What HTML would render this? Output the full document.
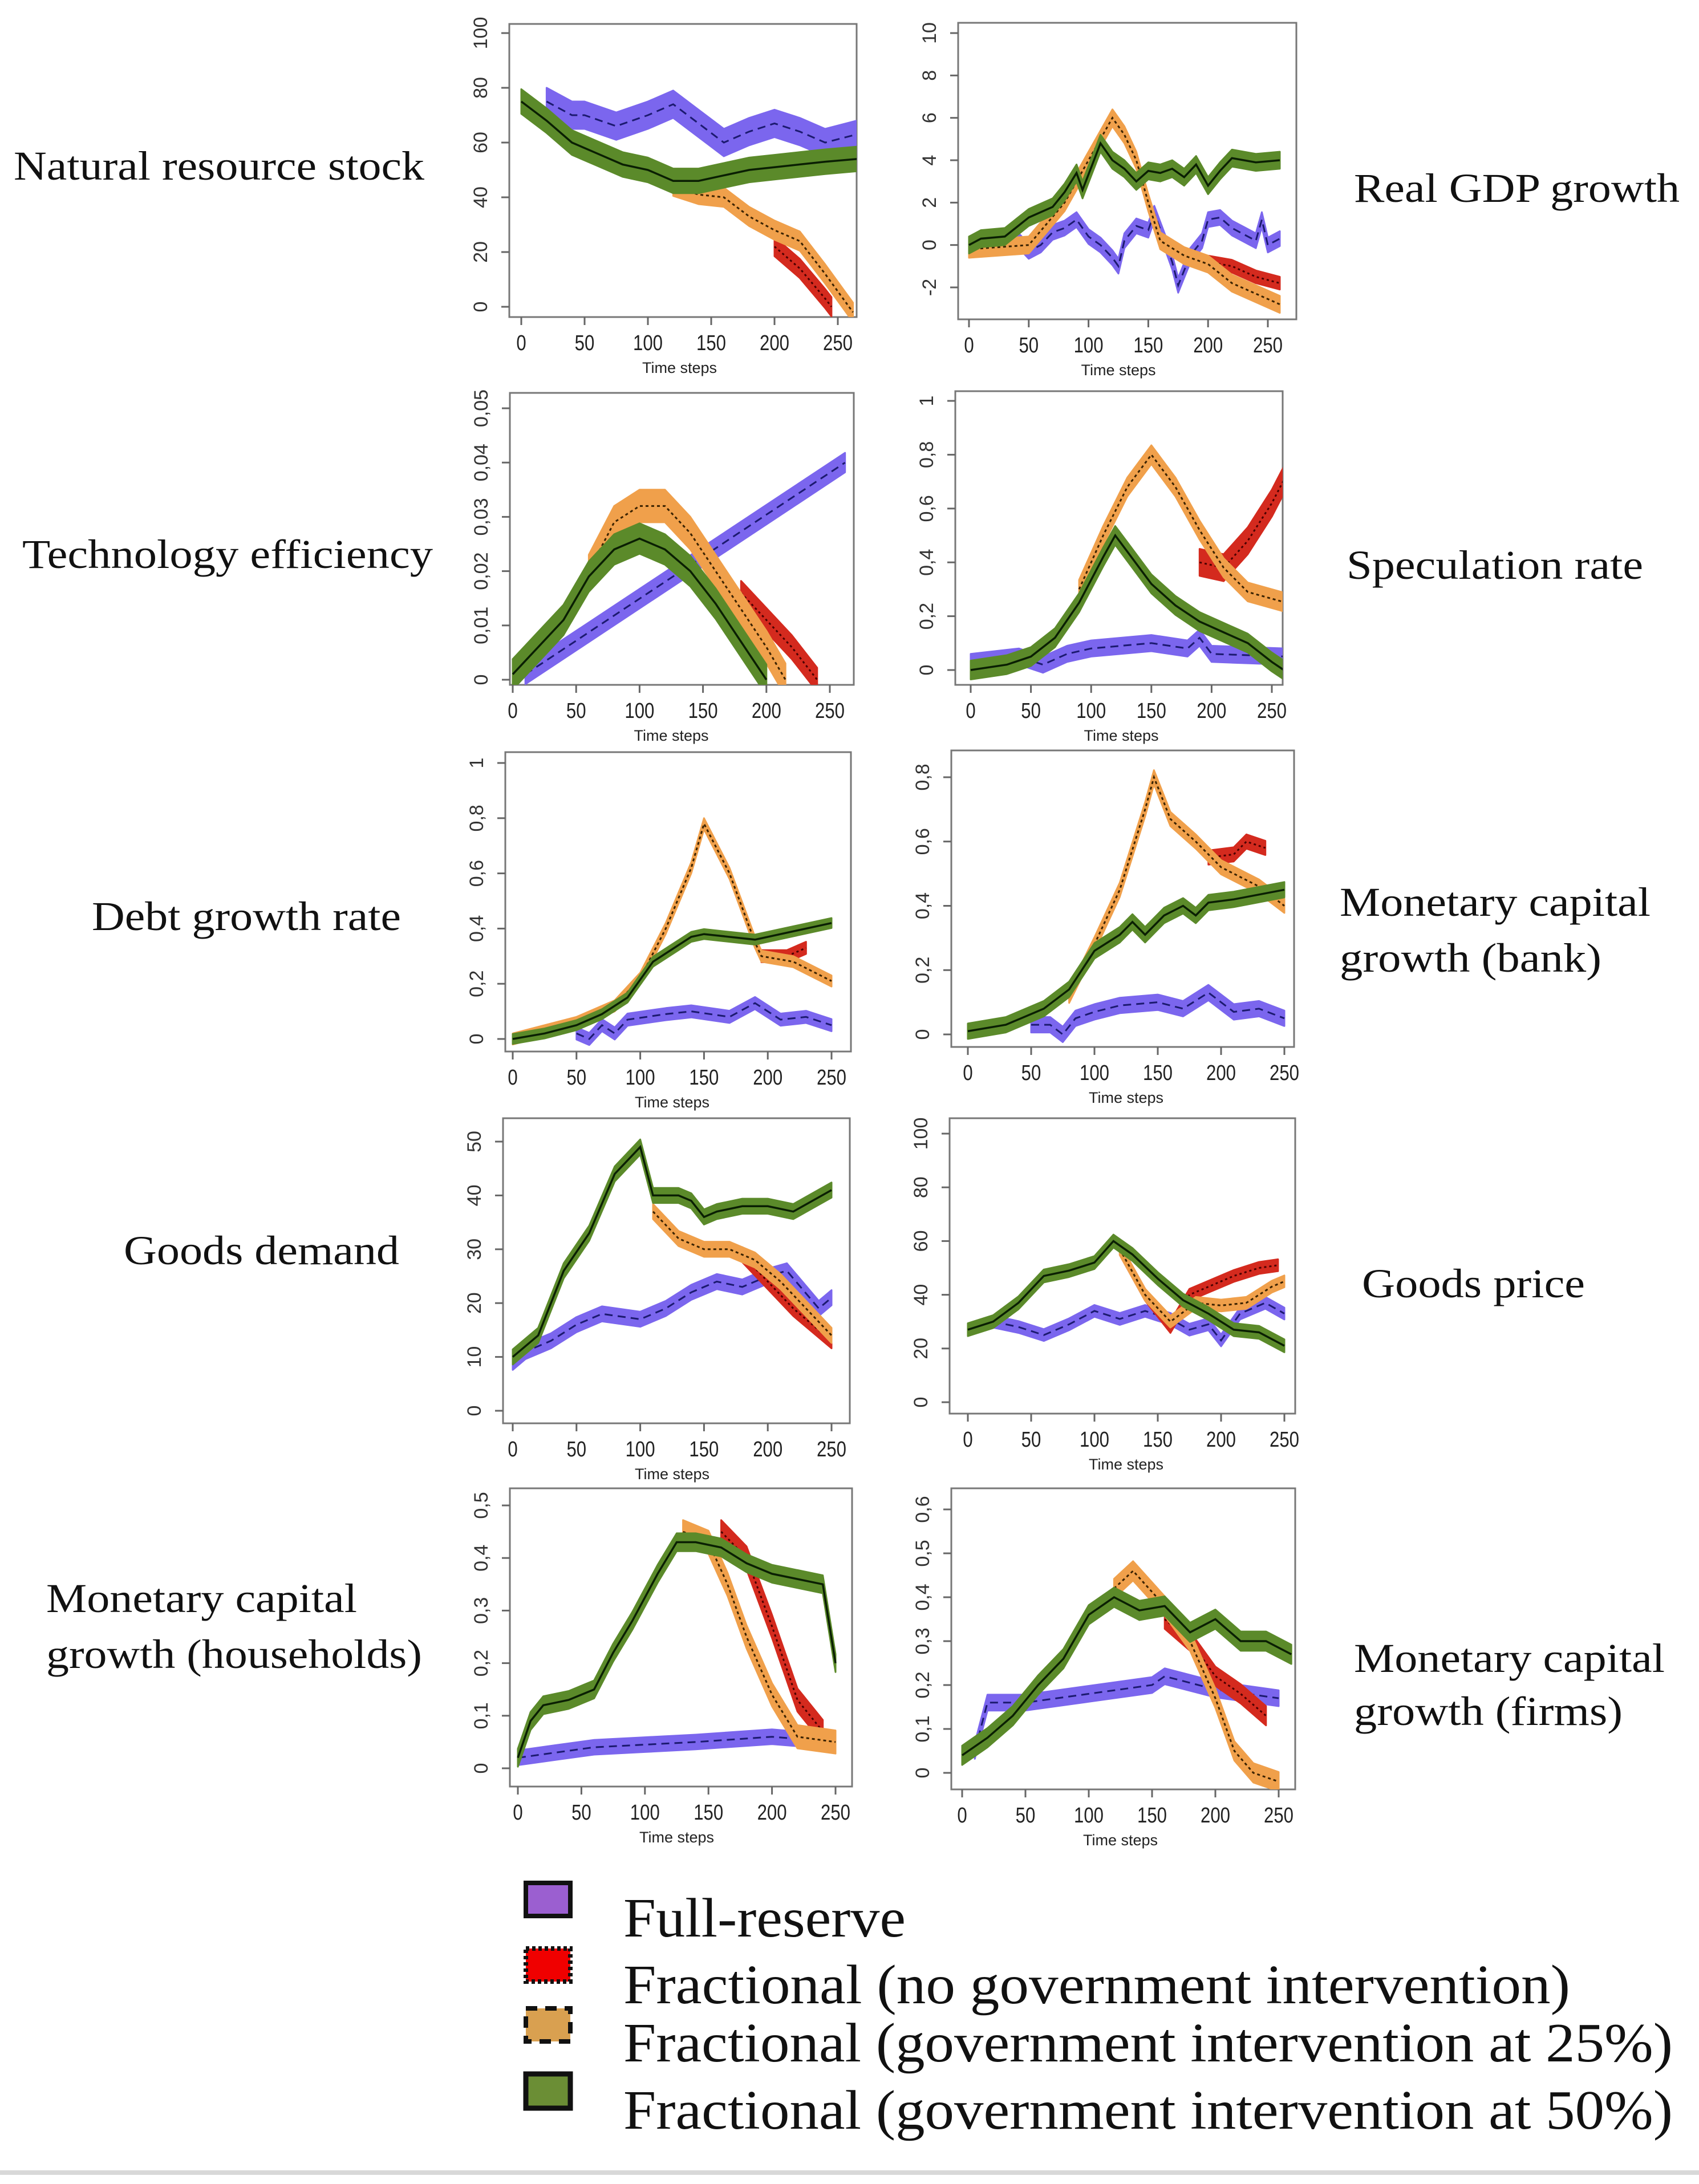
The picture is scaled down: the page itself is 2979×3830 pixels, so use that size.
<!DOCTYPE html>
<html><head><meta charset="utf-8"><style>
html,body{margin:0;padding:0;background:#fff;}
svg{display:block;}
</style></head><body>
<svg id="fig" width="2979" height="3830" viewBox="0 0 2979 3830" xmlns="http://www.w3.org/2000/svg">
<rect x="0" y="0" width="2979" height="3830" fill="#fff"/>
<g font-family="'Liberation Serif', serif" font-size="72" fill="#111">
<text x="24" y="315" textLength="720" lengthAdjust="spacingAndGlyphs">Natural resource stock</text>
<text x="2374" y="354" textLength="571" lengthAdjust="spacingAndGlyphs">Real GDP growth</text>
<text x="39" y="996" textLength="720" lengthAdjust="spacingAndGlyphs">Technology efficiency</text>
<text x="2361" y="1015" textLength="520" lengthAdjust="spacingAndGlyphs">Speculation rate</text>
<text x="161" y="1631" textLength="542" lengthAdjust="spacingAndGlyphs">Debt growth rate</text>
<text x="2349" y="1606" textLength="545" lengthAdjust="spacingAndGlyphs">Monetary capital</text>
<text x="2349" y="1704" textLength="459" lengthAdjust="spacingAndGlyphs">growth (bank)</text>
<text x="217" y="2217" textLength="483" lengthAdjust="spacingAndGlyphs">Goods demand</text>
<text x="2388" y="2275" textLength="391" lengthAdjust="spacingAndGlyphs">Goods price</text>
<text x="81" y="2827" textLength="545" lengthAdjust="spacingAndGlyphs">Monetary capital</text>
<text x="81" y="2925" textLength="659" lengthAdjust="spacingAndGlyphs">growth (households)</text>
<text x="2374" y="2932" textLength="545" lengthAdjust="spacingAndGlyphs">Monetary capital</text>
<text x="2374" y="3025" textLength="471" lengthAdjust="spacingAndGlyphs">growth (firms)</text>
</g>
<g id="panels"></g>
<g font-family="'Liberation Serif', serif" font-size="97" fill="#111">
<g>
<rect x="922" y="3302" width="78" height="58" fill="#9b5fd0" stroke="#111" stroke-width="8"/>
<text x="1093" y="3396" textLength="495" lengthAdjust="spacingAndGlyphs">Full-reserve</text></g>
<g>
<rect x="922" y="3417" width="78" height="58" fill="#f00000" stroke="#111" stroke-width="8" stroke-dasharray="6,5"/>
<text x="1093" y="3513" textLength="1660" lengthAdjust="spacingAndGlyphs">Fractional (no government intervention)</text></g>
<g>
<rect x="922" y="3522" width="78" height="58" fill="#d9a050" stroke="#111" stroke-width="8" stroke-dasharray="20,14"/>
<text x="1093" y="3615" textLength="1840" lengthAdjust="spacingAndGlyphs">Fractional (government intervention at 25%)</text></g>
<g>
<rect x="922" y="3637" width="78" height="60" fill="#6b8e35" stroke="#111" stroke-width="9"/>
<text x="1093" y="3733" textLength="1840" lengthAdjust="spacingAndGlyphs">Fractional (government intervention at 50%)</text></g>
</g>
<rect x="0" y="3806" width="2979" height="8" fill="#d8d8d8"/>
</svg>
<script>
// ---- data: [time step, value] pairs; band half-widths order: blue, red, orange, green
const p1Blue=[[20,75],[40,70],[50,70],[75,66],[100,70],[120,74],[140,67],[160,60],[180,64],[200,67],[220,64],[240,60],[265,63]];
const p1Red=[[200,22],[220,14],[240,3],[245,0]];
const p1Orange=[[120,44],[140,41],[160,40],[180,33],[200,28],[220,24],[240,12],[262,-2]];
const p1Green=[[0,75],[20,68],[40,60],[60,56],[80,52],[100,50],[120,46],[140,46],[160,48],[180,50],[200,51],[220,52],[240,53],[265,54]];
const p1Bands=[5,3.5,3.5,4.5];

const p2Blue=[[40,0.3],[50,-0.3],[60,0],[70,0.6],[80,0.8],[90,1.2],[100,0.4],[110,0],[120,-0.6],[125,-1],[130,0.2],[140,0.9],[150,0.7],[155,1.5],[165,0],[170,-0.8],[175,-1.9],[185,-0.5],[195,0.2],[200,1.2],[210,1.3],[220,0.8],[230,0.5],[240,0.2],[245,1.2],[250,0],[260,0.3]];
const p2Red=[[200,-0.8],[220,-1],[240,-1.5],[260,-1.8]];
const p2Orange=[[0,-0.2],[50,0],[80,2],[100,4],[110,5],[120,6],[130,5.2],[140,4],[150,2],[160,0.2],[180,-0.5],[200,-0.9],[220,-1.8],[240,-2.3],[260,-2.8]];
const p2Green=[[0,0],[10,0.3],[30,0.4],[50,1.3],[70,1.8],[80,2.5],[90,3.4],[95,2.6],[110,4.8],[120,4],[130,3.6],[140,3],[150,3.5],[160,3.4],[170,3.6],[180,3.2],[190,3.8],[200,2.8],[210,3.5],[220,4.1],[240,3.9],[260,4]];
const p2Bands=[0.35,0.3,0.4,0.4];

const p3Blue=[[10,0.001],[262,0.04]];
const p3Red=[[180,0.016],[200,0.011],[220,0.006],[240,0]];
const p3Orange=[[60,0.02],[80,0.029],[100,0.032],[120,0.032],[140,0.027],[160,0.02],[180,0.013],[200,0.006],[215,0]];
const p3Green=[[0,0.001],[20,0.006],[40,0.011],[60,0.019],[80,0.024],[100,0.026],[120,0.024],[140,0.02],[160,0.014],[180,0.007],[200,0]];
const p3Bands=[0.0018,0.0022,0.003,0.0028];

const p4Blue=[[0,0.03],[40,0.05],[60,0.02],[80,0.06],[100,0.08],[150,0.1],[180,0.08],[190,0.12],[200,0.06],[262,0.05]];
const p4Red=[[190,0.4],[210,0.38],[230,0.48],[250,0.62],[265,0.75]];
const p4Orange=[[90,0.3],[110,0.5],[130,0.68],[150,0.8],[170,0.68],[190,0.52],[210,0.38],[230,0.29],[262,0.25]];
const p4Green=[[0,0],[30,0.02],[50,0.05],[70,0.12],[90,0.25],[110,0.42],[120,0.5],[130,0.44],[150,0.32],[170,0.24],[190,0.18],[210,0.14],[230,0.1],[250,0.03],[260,0]];
const p4Bands=[0.03,0.05,0.035,0.035];

const p5Blue=[[50,0.02],[60,0],[70,0.05],[80,0.02],[90,0.07],[120,0.09],[140,0.1],[170,0.08],[190,0.13],[210,0.07],[230,0.08],[250,0.05]];
const p5Red=[[195,0.3],[215,0.3],[230,0.33]];
const p5Orange=[[0,0],[50,0.06],[80,0.12],[100,0.22],[120,0.4],[140,0.62],[150,0.78],[170,0.6],[190,0.35],[195,0.3],[220,0.28],[250,0.21]];
const p5Green=[[0,0],[25,0.02],[50,0.05],[70,0.09],[90,0.15],[110,0.28],[130,0.34],[140,0.37],[150,0.38],[190,0.36],[250,0.42]];
const p5Bands=[0.022,0.022,0.02,0.018];

const p6Blue=[[50,0.03],[65,0.03],[75,0],[85,0.05],[100,0.07],[120,0.09],[150,0.1],[170,0.08],[190,0.13],[210,0.07],[230,0.08],[250,0.05]];
const p6Red=[[190,0.55],[210,0.56],[220,0.6],[235,0.58]];
const p6Orange=[[80,0.12],[100,0.28],[120,0.45],[140,0.7],[147,0.8],[160,0.67],[180,0.6],[200,0.52],[230,0.46],[250,0.4]];
const p6Green=[[0,0.01],[30,0.03],[60,0.08],[80,0.14],[100,0.26],[120,0.31],[130,0.35],[140,0.31],[155,0.37],[170,0.4],[180,0.37],[190,0.41],[210,0.42],[250,0.45]];
const p6Bands=[0.024,0.022,0.022,0.024];

const p7Blue=[[0,9],[10,11],[30,13],[50,16],[70,18],[100,17],[120,19],[140,22],[160,24],[180,23],[200,25],[215,26],[240,19],[250,21]];
const p7Red=[[180,29],[200,24],[220,19],[240,15],[250,13]];
const p7Orange=[[110,37],[130,32],[150,30],[170,30],[190,28],[210,24],[230,19],[250,14]];
const p7Green=[[0,10],[20,14],[40,26],[60,33],[80,44],[100,49],[110,40],[130,40],[140,39],[150,36],[160,37],[180,38],[200,38],[220,37],[250,41]];
const p7Bands=[1.4,1.4,1.4,1.4];

const p8Blue=[[0,27],[20,30],[40,28],[60,25],[80,29],[100,34],[120,31],[140,34],[160,31],[175,27],[190,29],[200,23],[215,33],[235,37],[250,33]];
const p8Red=[[120,57],[140,40],[160,28],[175,40],[190,43],[210,47],[230,50],[245,51]];
const p8Orange=[[120,57],[140,40],[160,30],[180,37],[200,36],[220,37],[240,43],[250,45]];
const p8Green=[[0,27],[20,30],[40,37],[60,47],[80,49],[100,52],[115,60],[130,55],[150,46],[170,38],[190,33],[210,27],[230,26],[250,21]];
const p8Bands=[2.2,2.2,2.2,2.4];

const p9Blue=[[0,0.02],[30,0.03],[60,0.04],[100,0.045],[140,0.05],[200,0.06],[250,0.05]];
const p9Red=[[160,0.45],[180,0.4],[200,0.27],[220,0.13],[240,0.07]];
const p9Orange=[[130,0.45],[150,0.43],[165,0.35],[180,0.25],[200,0.14],[220,0.06],[250,0.05]];
const p9Green=[[0,0.02],[10,0.09],[20,0.12],[40,0.13],[60,0.15],[75,0.22],[90,0.28],[110,0.37],[125,0.43],[140,0.43],[160,0.42],[180,0.39],[200,0.37],[220,0.36],[240,0.35],[250,0.2]];
const p9Bands=[0.014,0.022,0.022,0.017];

const p10Blue=[[10,0.05],[20,0.16],[50,0.16],[100,0.18],[150,0.2],[160,0.22],[200,0.19],[250,0.17]];
const p10Red=[[160,0.35],[180,0.3],[200,0.22],[220,0.18],[240,0.13]];
const p10Orange=[[120,0.42],[135,0.46],[160,0.38],[180,0.3],[200,0.17],[215,0.05],[230,0],[250,-0.02]];
const p10Green=[[0,0.04],[20,0.08],[40,0.13],[60,0.2],[80,0.26],[100,0.36],[120,0.4],[140,0.37],[160,0.38],[180,0.32],[200,0.35],[220,0.3],[240,0.3],[260,0.27]];
const p10Bands=[0.018,0.022,0.022,0.022];

const xTicks=[0,50,100,150,200,250];
const p1Ticks=[0,20,40,60,80,100];
const p2Ticks=[-2,0,2,4,6,8,10];
const p3Ticks=[0,0.01,0.02,0.03,0.04,0.05];
const p4Ticks=[0,0.2,0.4,0.6,0.8,1];
const p5Ticks=[0,0.2,0.4,0.6,0.8,1];
const p6Ticks=[0,0.2,0.4,0.6,0.8];
const p7Ticks=[0,10,20,30,40,50];
const p8Ticks=[0,20,40,60,80,100];
const p9Ticks=[0,0.1,0.2,0.3,0.4,0.5];
const p10Ticks=[0,0.1,0.2,0.3,0.4,0.5,0.6];

// layout: [left, top, right, bottom, px at t=0, px at t=250, yLoVal, yLoPx, yHiVal, yHiPx]
const panels=[
 {name:'natural-resource-stock',g:[893,42,1502,556,914,1469,0,538,100,58],ticks:p1Ticks,s:[p1Blue,p1Red,p1Orange,p1Green],b:p1Bands},
 {name:'real-gdp-growth',g:[1680,40,2273,560,1699,2223,-2,504,10,58],ticks:p2Ticks,s:[p2Blue,p2Red,p2Orange,p2Green],b:p2Bands},
 {name:'technology-efficiency',g:[894,689,1497,1201,899,1455,0,1192,0.05,716],ticks:p3Ticks,s:[p3Blue,p3Red,p3Orange,p3Green],b:p3Bands},
 {name:'speculation-rate',g:[1675,686,2249,1201,1702,2230,0,1175,1,703],ticks:p4Ticks,s:[p4Blue,p4Red,p4Orange,p4Green],b:p4Bands},
 {name:'debt-growth-rate',g:[886,1319,1492,1844,899,1458,0,1822,1,1338],ticks:p5Ticks,s:[p5Blue,p5Red,p5Orange,p5Green],b:p5Bands},
 {name:'monetary-capital-bank',g:[1668,1316,2269,1836,1697,2252,0,1814,0.8,1363],ticks:p6Ticks,s:[p6Blue,p6Red,p6Orange,p6Green],b:p6Bands},
 {name:'goods-demand',g:[882,1961,1490,2496,899,1458,0,2474,50,2002],ticks:p7Ticks,s:[p7Blue,p7Red,p7Orange,p7Green],b:p7Bands},
 {name:'goods-price',g:[1665,1961,2271,2479,1697,2252,0,2459,100,1988],ticks:p8Ticks,s:[p8Blue,p8Red,p8Orange,p8Green],b:p8Bands},
 {name:'monetary-capital-households',g:[894,2610,1494,3133,908,1465,0,3101,0.5,2640],ticks:p9Ticks,s:[p9Blue,p9Red,p9Orange,p9Green],b:p9Bands},
 {name:'monetary-capital-firms',g:[1668,2610,2271,3138,1687,2242,0,3109,0.6,2647],ticks:p10Ticks,s:[p10Blue,p10Red,p10Orange,p10Green],b:p10Bands}
];
const seriesNames=['full-reserve','fractional-no-intervention','fractional-25','fractional-50'];
const bandFill=['#7b66ee','#d42a1e','#f0a04b','#5b8a2a'];
const lineCol=['#1c1a70','#4a0000','#3a2200','#0a1f03'];
const lineDash=['14,9','4,5','5,5',''];

const NS='http://www.w3.org/2000/svg';
const root=document.getElementById('panels');
function mk(tag,attrs,parent){const e=document.createElementNS(NS,tag);for(const k in attrs)e.setAttribute(k,attrs[k]);parent.appendChild(e);return e;}
function fmt(v){return String(Math.round(v*1000)/1000).replace('.',',');}

panels.forEach((p,pi)=>{
  const [L,T,R,B,x0,x250,yl,ylp,yh,yhp]=p.g;
  const X=t=>x0+(x250-x0)*t/250;
  const Y=v=>ylp+(yhp-ylp)*(v-yl)/(yh-yl);
  const g=mk('g',{},root);
  
  
  const cp=mk('clipPath',{id:'clip'+pi},g);
  mk('rect',{x:L,y:T,width:R-L,height:B-T},cp);
  const frame=mk('rect',{x:L,y:T,width:R-L,height:B-T,fill:'#fff',stroke:'#777','stroke-width':3},g);
  
  
  const plot=mk('g',{'clip-path':'url(#clip'+pi+')'},g);
  p.s.forEach((ser,si)=>{
    const hw=p.b[si];
    const up=ser.map(d=>X(d[0]).toFixed(1)+','+Y(d[1]+hw).toFixed(1));
    const lo=ser.slice().reverse().map(d=>X(d[0]).toFixed(1)+','+Y(d[1]-hw).toFixed(1));
    const band=mk('polygon',{points:up.concat(lo).join(' '),fill:bandFill[si],stroke:bandFill[si],'stroke-width':3,'stroke-linejoin':'round'},plot);
    
    
    const ln=mk('polyline',{points:ser.map(d=>X(d[0]).toFixed(1)+','+Y(d[1]).toFixed(1)).join(' '),fill:'none',stroke:lineCol[si],'stroke-width':si===3?3.5:3,'stroke-dasharray':lineDash[si]},plot);
    
    
  });
  const xa=mk('g',{},g);
  
  
  xTicks.forEach(t=>{
    mk('line',{x1:X(t),x2:X(t),y1:B,y2:B+14,stroke:'#666','stroke-width':3},xa);
    const tx=mk('text',{x:X(t),y:B+58,'text-anchor':'middle','font-family':"'Liberation Sans', sans-serif",'font-size':38,fill:'#222',transform:'translate('+X(t)+',0) scale(0.82,1) translate('+(-X(t))+',0)'},xa);
    tx.textContent=String(t);
    
    
  });
  const xt=mk('text',{x:(x0+x250)/2,y:B+98,'text-anchor':'middle','font-family':"'Liberation Sans', sans-serif",'font-size':27,fill:'#222'},xa);
  xt.textContent='Time steps';
  
  
  const ya=mk('g',{},g);
  
  
  p.ticks.forEach(v=>{
    const y=Y(v);
    mk('line',{x1:L-14,x2:L,y1:y,y2:y,stroke:'#666','stroke-width':3},ya);
    const cx=L-50;
    const tx=mk('text',{x:cx,y:y,'text-anchor':'middle','dominant-baseline':'central','font-family':"'Liberation Sans', sans-serif",'font-size':34,fill:'#333',transform:'rotate(-90 '+cx+' '+y+')'},ya);
    tx.textContent=fmt(v);
    
    
  });
});
</script>
</body></html>
